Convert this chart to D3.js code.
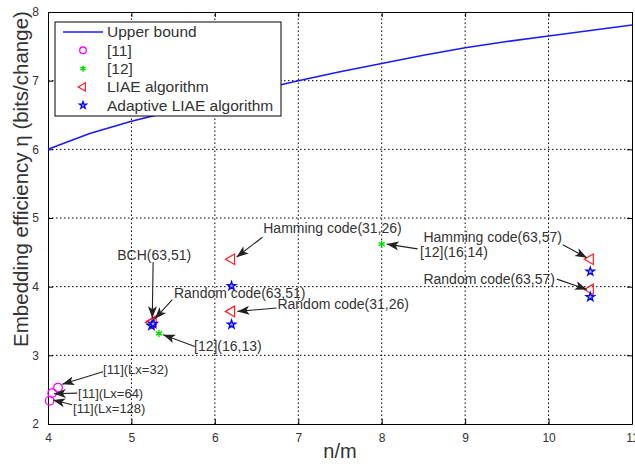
<!DOCTYPE html>
<html>
<head>
<meta charset="utf-8">
<script src="https://cdn.jsdelivr.net/npm/d3@7"></script>
<style>
  body { margin: 0; background: #fff; }
  text { font-family: "Liberation Sans", Arial, sans-serif; }
</style>
</head>
<body>
<div id="chart"></div>
<script>
// upper bound curve
const boundX = [4, 4.5, 5, 5.5, 6, 6.5, 7, 7.5, 8, 8.5, 9, 9.5, 10, 10.5, 11];
const boundY = [6.0, 6.23, 6.41, 6.56, 6.71, 6.86, 7.0, 7.13, 7.25, 7.37, 7.48, 7.57, 7.65, 7.73, 7.81];

// [11]
const refElevenX = [4.12, 4.05, 4.02];
const refElevenY = [2.53, 2.45, 2.34];
// [12]
const refTwelveX = [5.33, 8.0];
const refTwelveY = [3.32, 4.62];
// LIAE algorithm
const liaeX = [5.24, 5.26, 6.2, 6.2, 10.5, 10.5];
const liaeY = [3.48, 3.50, 4.40, 3.64, 4.40, 3.96];
// Adaptive LIAE algorithm
const adaptX = [5.24, 5.26, 6.2, 6.2, 10.5, 10.5];
const adaptY = [3.43, 3.46, 4.01, 3.45, 4.22, 3.85];

const xTicks = [4, 5, 6, 7, 8, 9, 10, 11];
const yTicks = [2, 3, 4, 5, 6, 7, 8];

// annotations: label, text spot [x, y], arrow start, arrow end (data units)
const notes = [
  ['BCH(63,51)',          [4.83, 4.46], [5.26, 4.36], [5.25, 3.54]],
  ['Random code(63,51)',  [5.51, 3.91], [5.49, 3.81], [5.28, 3.53]],
  ['Hamming code(31,26)', [6.58, 4.85], [6.57, 4.72], [6.26, 4.43]],
  ['Random code(31,26)',  [6.75, 3.75], [6.74, 3.69], [6.27, 3.64]],
  ['[12](16,13)',         [5.75, 3.13], [5.76, 3.13], [5.38, 3.30]],
  ['[11](Lx=32)',         [4.66, 2.79], [4.66, 2.76], [4.17, 2.58]],
  ['[11](Lx=64)',         [4.36, 2.45], [4.35, 2.45], [4.07, 2.44]],
  ['[11](Lx=128)',        [4.30, 2.23], [4.29, 2.28], [4.06, 2.35]],
  ['Hamming code(63,57)', [8.50, 4.72], [10.17, 4.61], [10.46, 4.42]],
  ['[12](16,14)',         [8.46, 4.51], [8.43, 4.55], [8.06, 4.62]],
  ['Random code(63,57)',  [8.50, 4.11], [10.10, 4.11], [10.46, 3.96]]
];

const width = 635, height = 464;
const margin = {left: 48, right: 3, top: 12, bottom: 40};

const svg = d3.select('#chart').append('svg')
  .attr('width', width)
  .attr('height', height);

const x = d3.scaleLinear().domain([4, 11]).range([margin.left, width - margin.right]);
const y = d3.scaleLinear().domain([2, 8]).range([height - margin.bottom, margin.top]);

svg.append('defs').append('marker')
  .attr('id', 'head')
  .attr('viewBox', '0 0 12 10')
  .attr('refX', 12).attr('refY', 5)
  .attr('markerWidth', 12).attr('markerHeight', 10)
  .attr('markerUnits', 'userSpaceOnUse')
  .attr('orient', 'auto')
  .append('path')
  .attr('d', 'M0,0.5 L12,5 L0,9.5 L3,5 Z')
  .attr('fill', '#222');

// grid
const grid = svg.append('g').attr('stroke', '#000').attr('stroke-width', 1)
  .attr('stroke-dasharray', '1.5,2.5');
grid.selectAll('.gx').data(xTicks.slice(1, -1)).enter().append('line')
  .attr('x1', d => x(d)).attr('x2', d => x(d))
  .attr('y1', y(2)).attr('y2', y(8));
grid.selectAll('.gy').data(yTicks.slice(1, -1)).enter().append('line')
  .attr('y1', d => y(d)).attr('y2', d => y(d))
  .attr('x1', x(4)).attr('x2', x(11));

// axes with inward ticks on all sides
const fmt = d3.format('d');
svg.append('g').attr('transform', `translate(0,${y(2)})`)
  .call(d3.axisBottom(x).tickValues(xTicks).tickFormat(fmt).tickSizeInner(-5).tickSizeOuter(0).tickPadding(9));
svg.append('g').attr('transform', `translate(0,${y(8)})`)
  .call(d3.axisTop(x).tickValues(xTicks).tickSizeInner(-5).tickSizeOuter(0).tickFormat(''));
svg.append('g').attr('transform', `translate(${x(4)},0)`)
  .call(d3.axisLeft(y).tickValues(yTicks).tickFormat(fmt).tickSizeInner(-5).tickSizeOuter(0).tickPadding(9));
svg.append('g').attr('transform', `translate(${x(11)},0)`)
  .call(d3.axisRight(y).tickValues(yTicks).tickSizeInner(-5).tickSizeOuter(0).tickFormat(''));
svg.selectAll('.domain').attr('stroke', '#000');
svg.selectAll('.tick line').attr('stroke', '#000');
svg.selectAll('.tick text').attr('font-size', 12).attr('fill', '#333')
  .attr('font-family', '"Liberation Sans", Arial, sans-serif');

// upper bound
const line = d3.line().x(d => x(d[0])).y(d => y(d[1]));
svg.append('path')
  .datum(d3.zip(boundX, boundY))
  .attr('d', line)
  .attr('fill', 'none')
  .attr('stroke', '#1a1aff')
  .attr('stroke-width', 1.6);

const tri = d3.symbol(d3.symbolTriangle, 48);
const star = d3.symbol(d3.symbolStar, 22);
const ast = d3.symbol(d3.symbolAsterisk, 36);

svg.append('g').selectAll('circle').data(d3.zip(refElevenX, refElevenY)).enter()
  .append('circle')
  .attr('cx', d => x(d[0])).attr('cy', d => y(d[1])).attr('r', 4.3)
  .attr('fill', 'none').attr('stroke', '#ff00ff').attr('stroke-width', 1.3);

svg.append('g').selectAll('path').data(d3.zip(refTwelveX, refTwelveY)).enter()
  .append('path')
  .attr('d', ast)
  .attr('transform', d => `translate(${x(d[0])},${y(d[1])})`)
  .attr('fill', 'none').attr('stroke', '#00dd00').attr('stroke-width', 1.4);

svg.append('g').selectAll('path').data(d3.zip(liaeX, liaeY)).enter()
  .append('path')
  .attr('d', tri)
  .attr('transform', d => `translate(${x(d[0])},${y(d[1])}) rotate(-90)`)
  .attr('fill', 'none').attr('stroke', '#ff2020').attr('stroke-width', 1.2);

svg.append('g').selectAll('path').data(d3.zip(adaptX, adaptY)).enter()
  .append('path')
  .attr('d', star)
  .attr('transform', d => `translate(${x(d[0])},${y(d[1])})`)
  .attr('fill', '#aaaaff').attr('stroke', '#0000ff').attr('stroke-width', 1.3);

// annotations
const ann = svg.append('g');
notes.forEach(([label, tp, a, b]) => {
  ann.append('line')
    .attr('x1', x(a[0])).attr('y1', y(a[1]))
    .attr('x2', x(b[0])).attr('y2', y(b[1]))
    .attr('stroke', '#222').attr('stroke-width', 1.1)
    .attr('marker-end', 'url(#head)');
  ann.append('text')
    .attr('x', x(tp[0])).attr('y', y(tp[1]))
    .attr('dy', '0.35em')
    .attr('font-size', label.startsWith('[11]') ? 13 : 14)
    .attr('fill', '#333')
    .text(label);
});

// legend
const lg = svg.append('g').attr('transform', 'translate(55,22)');
lg.append('rect').attr('width', 226).attr('height', 94)
  .attr('fill', '#fff').attr('stroke', '#000').attr('stroke-width', 1);
const legendItems = ['Upper bound', '[11]', '[12]', 'LIAE algorithm', 'Adaptive LIAE algorithm'];
const rowY = d => 10 + d * 18.3;
lg.append('line').attr('x1', 8).attr('x2', 48).attr('y1', rowY(0)).attr('y2', rowY(0))
  .attr('stroke', '#1a1aff').attr('stroke-width', 1.6);
lg.append('circle').attr('cx', 28).attr('cy', rowY(1)).attr('r', 3.3)
  .attr('fill', 'none').attr('stroke', '#ff00ff').attr('stroke-width', 1.3);
lg.append('path').attr('d', d3.symbol(d3.symbolAsterisk, 26))
  .attr('transform', `translate(28,${rowY(2)})`)
  .attr('fill', 'none').attr('stroke', '#00dd00').attr('stroke-width', 1.4);
lg.append('path').attr('d', d3.symbol(d3.symbolTriangle, 30))
  .attr('transform', `translate(28,${rowY(3)}) rotate(-90)`)
  .attr('fill', 'none').attr('stroke', '#ff2020').attr('stroke-width', 1.2);
lg.append('path').attr('d', d3.symbol(d3.symbolStar, 16))
  .attr('transform', `translate(28,${rowY(4)})`)
  .attr('fill', '#aaaaff').attr('stroke', '#0000ff').attr('stroke-width', 1.2);
lg.selectAll('.lt').data(legendItems).enter().append('text')
  .attr('x', 52).attr('y', (d, i) => rowY(i)).attr('dy', '0.35em')
  .attr('font-size', 15.5).attr('fill', '#333')
  .text(d => d);

// axis titles
svg.append('text')
  .attr('x', (x(4) + x(11)) / 2).attr('y', 458)
  .attr('text-anchor', 'middle').attr('font-size', 20).attr('fill', '#333')
  .text('n/m');
svg.append('text')
  .attr('transform', 'translate(28,179) rotate(-90)')
  .attr('text-anchor', 'middle').attr('font-size', 20.5).attr('fill', '#333')
  .text('Embedding efficiency η (bits/change)');
</script>
</body>
</html>
